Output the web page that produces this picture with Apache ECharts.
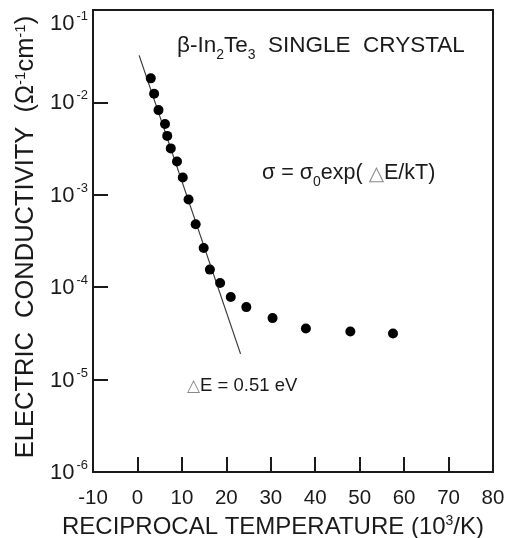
<!DOCTYPE html>
<html>
<head>
<meta charset="utf-8">
<script src="https://cdn.jsdelivr.net/npm/echarts@6/dist/echarts.min.js"></script>
<style>
  html, body { margin: 0; padding: 0; background: #fff; }
  #chart { width: 512px; height: 538px; }
</style>
</head>
<body>
<div id="chart"></div>
<script>
// Measured data points (reciprocal temperature, 10^3/K) and conductivity (Ω^-1 cm^-1)
const xValues = [3.0, 3.75, 4.74, 6.2, 6.7, 7.5, 8.9, 10.2, 11.5, 13.1, 14.9, 16.3, 18.6, 21.0, 24.5, 30.4, 37.9, 47.9, 57.5];
const yValues = [0.0182, 0.0124, 0.00825, 0.00585, 0.00434, 0.00318, 0.00229, 0.00154, 0.000889, 0.000480, 0.000266, 0.000155, 0.000111, 7.82e-5, 6.09e-5, 4.63e-5, 3.57e-5, 3.31e-5, 3.15e-5];
// Fitted line (ΔE = 0.51 eV) end points
const fitX = [0.38, 23.2];
const fitY = [0.0323, 1.9e-5];
// Axis ranges and tick labels
const xTicks = [-10, 0, 10, 20, 30, 40, 50, 60, 70, 80];
const yDecades = [-6, -5, -4, -3, -2, -1];
// Text
const titleText = ['β-In', '2', 'Te', '3', '  SINGLE  CRYSTAL'];
const eqText = ['σ = σ', '0', 'exp( ', '△', 'E/kT)'];
const deltaText = ['△', 'E = 0.51 eV'];
const xName = ['RECIPROCAL TEMPERATURE (10', '3', '/K)'];
const yName = ['ELECTRIC  CONDUCTIVITY  (Ω', '-1', 'cm', '-1', ')'];

const FONT = 'Liberation Sans, Arial, sans-serif';
const INK = '#1a1a1a';

const chart = echarts.init(document.getElementById('chart'), null, { renderer: 'canvas' });

const points = xValues.map((x, i) => [x, yValues[i]]);
const fitLine = fitX.map((x, i) => [x, fitY[i]]);

const option = {
  animation: false,
  backgroundColor: '#fff',
  grid: {
    left: 93, top: 10, right: 19, bottom: 66,
    containLabel: false,
    outerBoundsMode: 'none',
    show: true, borderColor: INK, borderWidth: 2, backgroundColor: 'transparent'
  },
  xAxis: {
    type: 'value',
    min: xTicks[0], max: xTicks[xTicks.length - 1], interval: 10,
    axisLine: { show: true, onZero: false, lineStyle: { color: INK, width: 2 } },
    axisTick: { show: true, inside: true, length: 15, lineStyle: { color: INK, width: 2 } },
    splitLine: { show: false },
    axisLabel: { fontSize: 20.5, color: INK, margin: 16, fontFamily: FONT, showMinLabel: true, showMaxLabel: true },
    name: '{t|' + xName[0] + '}{s|' + xName[1] + '}{t|' + xName[2] + '}',
    nameLocation: 'middle',
    nameGap: 37,
    nameTextStyle: {
      padding: [0, 40, 0, 0],
      rich: {
        t: { fontSize: 24, color: INK, fontFamily: FONT, verticalAlign: 'bottom', lineHeight: 25 },
        s: { fontSize: 14, color: INK, fontFamily: FONT, verticalAlign: 'bottom', lineHeight: 14, padding: [0, 0, 11, 0] }
      }
    }
  },
  yAxis: {
    type: 'log', logBase: 10,
    min: Math.pow(10, yDecades[0]), max: Math.pow(10, yDecades[yDecades.length - 1]),
    axisLine: { show: true, onZero: false, lineStyle: { color: INK, width: 2 } },
    axisTick: { show: true, inside: true, length: 15, lineStyle: { color: INK, width: 2 } },
    splitLine: { show: false },
    axisLabel: {
      margin: 5,
      lineHeight: 26,
      showMinLabel: true, showMaxLabel: true,
      formatter: function (v) {
        const e = Math.round(Math.log10(v));
        const lab = '{b|10}{s|' + e + '}';
        // top label sits a little below its tick, as in the original figure
        if (e === yDecades[yDecades.length - 1]) return '\n' + lab;
        return lab;
      },
      rich: {
        b: { fontSize: 22, color: INK, fontFamily: FONT, verticalAlign: 'bottom', lineHeight: 24 },
        s: { fontSize: 13, color: INK, fontFamily: FONT, verticalAlign: 'bottom', lineHeight: 13, padding: [0, 0, 12, 2] }
      }
    },
    name: '{t|' + yName[0] + '}{s|' + yName[1] + '}{t|' + yName[2] + '}{s|' + yName[3] + '}{t|' + yName[4] + '}',
    nameLocation: 'middle',
    nameGap: 51,
    nameTextStyle: {
      padding: [0, 0, 0, 8],
      rich: {
        t: { fontSize: 25.5, color: INK, fontFamily: FONT, verticalAlign: 'bottom', lineHeight: 26 },
        s: { fontSize: 15, color: INK, fontFamily: FONT, verticalAlign: 'bottom', lineHeight: 15, padding: [0, 0, 11, 0] }
      }
    }
  },
  series: [
    {
      type: 'line',
      data: fitLine,
      showSymbol: false,
      symbol: 'none',
      lineStyle: { color: '#3a3a3a', width: 1.2 },
      silent: true,
      z: 2
    },
    {
      type: 'scatter',
      data: points,
      symbol: 'circle',
      symbolSize: 10,
      itemStyle: { color: '#000', opacity: 1 },
      z: 3
    }
  ],
  graphic: [
    {
      type: 'text', x: 177, y: 50,
      style: {
        text: '{t|' + titleText[0] + '}{u|' + titleText[1] + '}{t|' + titleText[2] + '}{u|' + titleText[3] + '}{t|' + titleText[4] + '}',
        verticalAlign: 'middle', align: 'left',
        rich: {
          t: { fontSize: 22.5, fill: INK, fontFamily: FONT, verticalAlign: 'bottom', lineHeight: 24, padding: [0, 0, 5, 0] },
          u: { fontSize: 14, fill: INK, fontFamily: FONT, verticalAlign: 'bottom', lineHeight: 15 }
        }
      }
    },
    {
      type: 'text', x: 262, y: 178,
      style: {
        text: '{t|' + eqText[0] + '}{u|' + eqText[1] + '}{t|' + eqText[2] + '}{g|' + eqText[3] + '}{t|' + eqText[4] + '}',
        verticalAlign: 'middle', align: 'left',
        rich: {
          t: { fontSize: 21.5, fill: INK, fontFamily: FONT, verticalAlign: 'bottom', lineHeight: 23, padding: [0, 0, 5, 0] },
          u: { fontSize: 14, fill: INK, fontFamily: FONT, verticalAlign: 'bottom', lineHeight: 15 },
          g: { fontSize: 20, fill: '#888', fontFamily: 'DejaVu Sans', verticalAlign: 'bottom', lineHeight: 23, padding: [0, 0, 5, 0] }
        }
      }
    },
    {
      type: 'text', x: 187, y: 385,
      style: {
        text: '{g|' + deltaText[0] + '}{t|' + deltaText[1] + '}',
        verticalAlign: 'middle', align: 'left',
        rich: {
          t: { fontSize: 18.5, fill: INK, fontFamily: FONT, verticalAlign: 'bottom', lineHeight: 21 },
          g: { fontSize: 17, fill: '#888', fontFamily: 'DejaVu Sans', verticalAlign: 'bottom', lineHeight: 21 }
        }
      }
    }
  ]
};

chart.setOption(option);
</script>
</body>
</html>
